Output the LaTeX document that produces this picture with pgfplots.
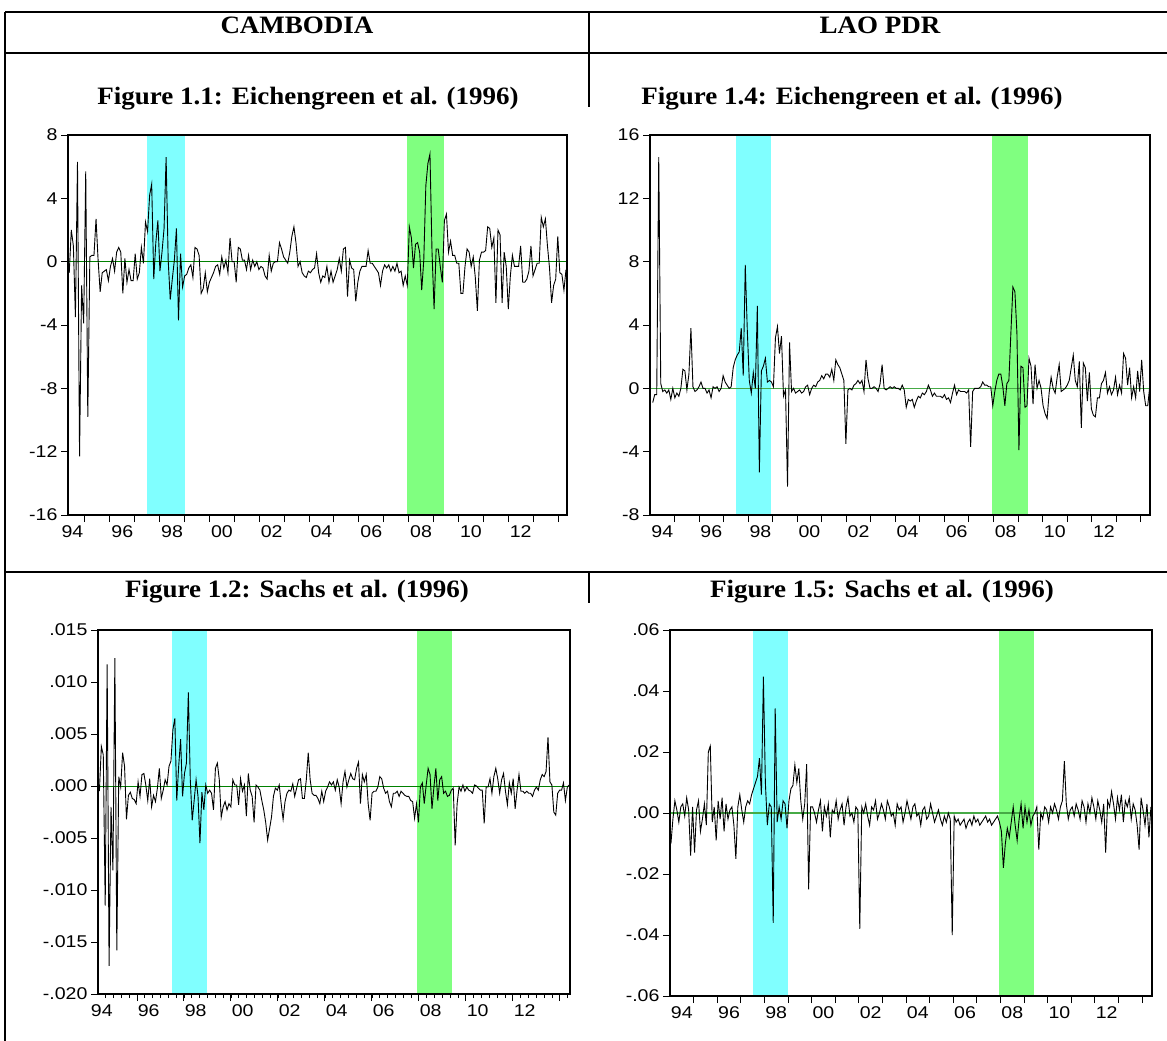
\documentclass[border=0pt]{standalone}
\usepackage{fontspec}
\setmainfont{Liberation Serif}
\newfontfamily\ticksans{Liberation Sans}[FakeStretch=1.15]
\newfontfamily\ttlserif{Liberation Serif}[FakeStretch=1.08]
\usepackage{pgfplots}
\pgfplotsset{compat=1.18}
\usepackage{pgfplotstable}
\definecolor{bandc}{RGB}{128,255,255}
\definecolor{bandg}{RGB}{128,255,128}
\definecolor{zl}{RGB}{0,128,0}
\definecolor{zr}{RGB}{70,170,70}
\newcommand\tk{\ticksans\fontsize{17}{17}\selectfont}
\newcommand\ttlf{\ttlserif\bfseries\fontsize{25}{30}\selectfont}

\pgfplotstableread[row sep=\\]{v\\
-0.7\\2.0\\1.0\\-3.5\\6.3\\-12.3\\-1.5\\-3.9\\5.7\\-9.8\\
0.3\\0.4\\0.4\\2.7\\0.1\\-1.9\\-0.7\\-0.6\\-0.5\\-1.2\\
-0.3\\0.2\\-0.6\\0.6\\0.9\\0.6\\-2.0\\0.2\\-1.3\\-0.5\\
-1.2\\-1.2\\0.5\\-1.1\\-0.7\\0.9\\-0.1\\2.5\\1.9\\4.2\\
4.9\\-1.1\\1.2\\2.6\\-0.6\\0.6\\2.1\\6.6\\0.1\\-2.4\\
-1.1\\0.1\\2.1\\-3.7\\0.5\\-1.6\\-0.9\\-0.8\\-0.4\\-0.2\\
-1.0\\0.9\\0.8\\0.4\\-2.0\\-1.7\\-0.7\\-1.9\\-1.3\\-1.0\\
-0.7\\-0.3\\-0.2\\-0.8\\0.3\\-0.4\\0.1\\-0.7\\1.5\\0.0\\
0.0\\-1.3\\0.9\\0.8\\0.1\\0.1\\-0.5\\0.4\\-0.5\\0.1\\
-0.3\\0.0\\-0.5\\-0.3\\-0.4\\-0.9\\-1.1\\0.4\\-0.6\\-0.1\\
0.0\\0.0\\1.2\\0.8\\0.3\\0.1\\-0.1\\0.6\\1.6\\2.2\\
1.2\\-0.3\\
0.0\\-0.7\\-0.9\\-1.0\\-0.6\\-0.7\\-0.5\\-0.4\\0.5\\-0.7\\
-1.3\\-0.9\\-1.0\\-0.3\\-1.3\\-0.6\\-1.3\\-0.9\\-0.5\\0.2\\
-0.6\\0.8\\0.9\\-2.2\\0.1\\-0.4\\-0.5\\-2.5\\-1.3\\-0.6\\
-0.3\\-0.3\\-0.3\\0.7\\-0.1\\-0.1\\-0.3\\-0.5\\-0.7\\-1.5\\
-0.6\\-0.2\\-0.4\\-0.2\\-0.6\\-0.3\\-0.6\\-0.1\\-0.7\\-0.6\\
-1.5\\-0.9\\-1.5\\2.2\\1.5\\-0.4\\1.1\\1.2\\0.6\\-1.8\\
0.1\\4.8\\6.2\\6.8\\0.6\\-3.0\\0.8\\0.8\\-0.3\\-1.3\\
2.6\\3.0\\0.6\\1.3\\0.4\\0.4\\-0.1\\-0.1\\-2.0\\-2.0\\
-0.3\\0.8\\0.6\\-0.3\\0.3\\-1.0\\-3.1\\0.1\\0.6\\0.6\\
0.7\\2.2\\2.1\\0.9\\1.5\\-2.6\\2.0\\1.7\\-2.6\\0.6\\
-0.3\\-3.0\\-0.9\\0.4\\-0.3\\-0.3\\-0.3\\1.0\\-1.3\\-1.3\\
-1.1\\-0.6\\1.0\\-0.9\\-0.5\\-0.1\\-0.1\\2.8\\2.2\\2.7\\
1.0\\-0.4\\-2.6\\-1.5\\-1.1\\1.6\\-0.7\\-0.8\\-1.8\\-0.5\\
}\dA

\pgfplotstableread[row sep=\\]{v\\
-0.9\\-0.4\\-0.4\\14.6\\0.3\\-0.2\\-0.1\\-0.3\\-0.1\\-0.7\\
0.0\\-0.6\\-0.3\\-0.5\\0.0\\1.2\\1.1\\-0.1\\0.9\\3.8\\
0.1\\-0.2\\-0.1\\0.1\\0.4\\0.0\\0.0\\-0.3\\-0.1\\-0.6\\
0.1\\0.0\\0.1\\-0.2\\0.0\\0.8\\0.4\\0.2\\0.0\\0.1\\
1.3\\1.8\\2.1\\2.3\\3.8\\0.8\\7.8\\3.7\\0.5\\-0.3\\
1.0\\0.0\\5.2\\-5.3\\1.1\\1.4\\1.9\\0.4\\0.5\\0.4\\
0.1\\3.2\\3.9\\2.2\\3.3\\-0.5\\-0.1\\-6.2\\2.9\\-0.2\\
0.0\\-0.3\\-0.2\\-0.1\\-0.3\\-0.2\\0.1\\0.2\\-0.4\\0.0\\
0.2\\0.1\\0.4\\0.5\\0.8\\0.6\\0.9\\0.9\\0.7\\1.2\\
0.5\\1.8\\1.5\\1.3\\0.9\\0.5\\-3.5\\-0.1\\0.0\\-0.1\\
0.2\\0.3\\0.5\\0.3\\0.5\\-0.2\\1.8\\0.6\\0.0\\0.0\\
0.1\\0.0\\-0.2\\
0.3\\1.5\\0.0\\-0.1\\0.0\\0.1\\0.0\\0.1\\0.0\\0.0\\
-0.1\\0.2\\-0.1\\-1.2\\-0.7\\-0.8\\-0.7\\-1.2\\-0.8\\-0.5\\
-0.6\\-0.3\\-0.4\\-0.2\\0.2\\-0.1\\-0.5\\-0.3\\-0.5\\-0.5\\
-0.5\\-0.6\\-0.4\\-0.7\\-0.6\\-0.9\\-0.3\\0.2\\-0.4\\-0.1\\
-0.2\\-0.2\\-0.2\\-0.3\\-0.1\\-3.7\\-0.2\\0.0\\0.0\\0.0\\
0.1\\0.4\\0.2\\0.2\\0.1\\0.1\\-1.1\\-0.2\\0.5\\0.9\\
0.9\\0.1\\-1.1\\0.3\\0.5\\3.5\\6.4\\6.1\\3.5\\-3.9\\
1.4\\1.3\\-1.2\\-1.1\\1.9\\1.4\\-1.0\\1.5\\0.0\\0.5\\
0.0\\-1.1\\-1.6\\-1.9\\-0.3\\0.7\\0.0\\-0.3\\0.7\\1.5\\
-0.2\\-0.1\\0.0\\0.2\\0.5\\1.3\\2.1\\0.5\\0.1\\1.7\\
-2.5\\1.6\\1.3\\-0.8\\1.0\\-1.3\\-1.7\\-1.8\\-0.6\\-0.6\\
0.3\\0.5\\1.0\\-0.3\\0.1\\-0.4\\-0.1\\0.7\\-0.4\\0.2\\
-0.3\\2.2\\1.9\\0.2\\1.3\\-0.6\\0.1\\-0.6\\1.1\\-0.2\\
1.8\\-0.2\\-1.1\\-1.1\\0.1\\
}\dB

\pgfplotstableread[row sep=\\]{v\\
-0.0005\\0.0038\\0.0030\\-0.0115\\0.0117\\-0.0173\\-0.0020\\-0.0081\\0.0123\\-0.0158\\
0.0009\\-0.0001\\0.0032\\0.0019\\-0.0032\\-0.0009\\-0.0006\\-0.0012\\-0.0013\\-0.0017\\
0.0004\\-0.0010\\0.0011\\0.0012\\0.0001\\-0.0014\\0.0007\\-0.0020\\-0.0009\\-0.0015\\
-0.0002\\0.0017\\-0.0012\\-0.0004\\0.0006\\0.0001\\0.0019\\0.0024\\0.0054\\0.0065\\
-0.0014\\0.0019\\0.0045\\-0.0010\\0.0012\\0.0022\\0.0090\\0.0006\\-0.0033\\-0.0014\\
0.0006\\-0.0010\\-0.0055\\-0.0006\\-0.0023\\0.0001\\-0.0007\\-0.0004\\-0.0007\\-0.0023\\
0.0017\\0.0022\\0.0006\\-0.0030\\-0.0020\\-0.0015\\-0.0023\\-0.0017\\-0.0020\\0.0006\\
0.0001\\0.0001\\-0.0018\\0.0007\\-0.0005\\0.0001\\-0.0029\\0.0012\\-0.0004\\-0.0010\\
-0.0035\\0.0001\\-0.0001\\-0.0004\\-0.0014\\-0.0023\\-0.0035\\-0.0052\\-0.0041\\-0.0030\\
-0.0010\\-0.0002\\-0.0004\\0.0001\\-0.0017\\-0.0032\\-0.0015\\-0.0007\\-0.0004\\-0.0005\\
0.0002\\-0.0010\\-0.0002\\0.0006\\0.0007\\-0.0012\\-0.0012\\0.0006\\0.0032\\0.0006\\
-0.0007\\-0.0009\\-0.0009\\-0.0012\\-0.0017\\-0.0005\\-0.0015\\-0.0005\\-0.0001\\0.0004\\
0.0001\\0.0004\\-0.0004\\0.0006\\-0.0001\\-0.0017\\0.0004\\0.0014\\-0.0001\\0.0006\\
0.0012\\0.0007\\0.0006\\0.0017\\0.0023\\-0.0017\\0.0011\\0.0004\\0.0011\\-0.0017\\
-0.0033\\-0.0007\\-0.0005\\-0.0005\\-0.0001\\0.0009\\0.0007\\-0.0002\\-0.0007\\-0.0005\\
-0.0015\\-0.0020\\-0.0007\\-0.0007\\-0.0005\\-0.0010\\-0.0005\\-0.0007\\-0.0009\\-0.0010\\
-0.0010\\-0.0014\\-0.0015\\-0.0031\\-0.0017\\-0.0035\\-0.0001\\0.0003\\-0.0017\\0.0001\\
0.0017\\0.0011\\-0.0022\\-0.0001\\0.0017\\-0.0014\\0.0006\\0.0009\\-0.0007\\-0.0005\\
-0.0010\\-0.0009\\-0.0004\\-0.0002\\-0.0057\\-0.0017\\-0.0001\\-0.0005\\0.0001\\-0.0005\\
-0.0001\\-0.0004\\-0.0005\\-0.0007\\0.0001\\0.0000\\-0.0002\\-0.0004\\-0.0004\\-0.0036\\
-0.0001\\-0.0001\\0.0007\\-0.0007\\0.0009\\0.0017\\0.0007\\-0.0007\\0.0006\\0.0012\\
-0.0005\\-0.0018\\0.0003\\-0.0007\\0.0007\\-0.0022\\-0.0004\\0.0011\\-0.0005\\-0.0005\\
-0.0007\\-0.0005\\-0.0007\\-0.0007\\-0.0010\\-0.0004\\-0.0001\\-0.0004\\0.0006\\0.0011\\
0.0009\\0.0014\\0.0047\\0.0004\\0.0001\\-0.0025\\-0.0028\\-0.0007\\-0.0004\\-0.0004\\
0.0003\\-0.0014\\-0.0001\\0.0001\\
}\dC

\pgfplotstableread[row sep=\\]{v\\
-0.010\\-0.002\\0.004\\0.001\\-0.003\\0.002\\0.003\\-0.001\\0.005\\0.001\\-0.014\\0.002\\
-0.013\\0.001\\0.004\\-0.006\\-0.002\\0.003\\-0.004\\0.020\\0.022\\-0.003\\0.002\\-0.009\\
0.004\\-0.002\\0.005\\-0.006\\0.003\\-0.002\\0.001\\0.002\\-0.004\\-0.015\\0.002\\0.006\\
0.001\\-0.003\\0.002\\0.004\\0.003\\0.006\\0.008\\0.010\\0.012\\
0.018\\0.006\\0.0447\\0.010\\-0.004\\0.003\\0.002\\-0.036\\0.0343\\-0.003\\0.002\\-0.002\\0.004\\
0.003\\-0.005\\0.004\\0.008\\
0.009\\0.0158\\0.010\\0.0146\\0.004\\-0.002\\0.003\\0.016\\-0.025\\0.002\\
0.002\\0.000\\-0.003\\0.001\\0.004\\-0.006\\0.002\\-0.001\\0.003\\-0.008\\0.001\\0.000\\
0.004\\-0.002\\0.001\\0.003\\-0.004\\0.002\\0.005\\-0.001\\0.000\\-0.003\\0.002\\0.001\\
-0.038\\
0.002\\0.000\\0.003\\-0.001\\-0.004\\0.002\\0.001\\0.004\\-0.002\\0.000\\0.003\\
0.001\\-0.002\\0.004\\0.002\\-0.001\\0.000\\-0.004\\0.003\\0.001\\0.002\\-0.003\\0.000\\
0.004\\0.001\\-0.002\\0.002\\0.003\\-0.001\\0.000\\-0.004\\0.001\\0.002\\-0.002\\-0.001\\
0.003\\0.000\\-0.003\\-0.001\\0.001\\-0.002\\-0.004\\-0.001\\-0.003\\0.000\\-0.002\\
-0.040\\
-0.001\\-0.003\\-0.002\\-0.004\\-0.003\\-0.002\\-0.005\\-0.003\\-0.002\\-0.004\\-0.001\\-0.003\\
-0.002\\-0.004\\-0.003\\-0.002\\-0.001\\-0.003\\-0.002\\-0.004\\-0.003\\-0.002\\-0.001\\
-0.003\\-0.006\\-0.018\\-0.010\\-0.005\\-0.008\\-0.003\\0.002\\-0.004\\-0.009\\-0.002\\0.003\\
-0.005\\0.002\\-0.003\\0.001\\-0.004\\-0.001\\0.000\\
0.002\\-0.012\\0.000\\-0.002\\0.002\\0.001\\-0.003\\0.002\\0.000\\0.003\\0.001\\-0.002\\
0.002\\0.004\\0.017\\0.003\\-0.002\\0.001\\
0.002\\-0.001\\0.003\\0.001\\-0.002\\0.004\\0.002\\-0.003\\0.003\\0.000\\0.005\\0.002\\
-0.002\\0.004\\0.001\\-0.003\\0.003\\
-0.013\\
0.004\\0.002\\0.007\\0.003\\-0.002\\0.005\\0.001\\0.006\\-0.003\\0.004\\0.002\\0.005\\
-0.002\\0.003\\0.001\\-0.004\\-0.012\\0.005\\0.001\\-0.004\\0.003\\-0.008\\0.002\\
}\dD

\pgfplotsset{
  panel/.style={
    scale only axis, axis on top,
    axis line style={line width=1.3pt},
    tick style={black, line width=1pt},
    tick align=outside,
    xtick pos=left, ytick pos=left,
    major tick length=7pt, minor tick length=4pt,
    tick label style={font=\tk},
    scaled ticks=false,
    extra x ticks={1994.5,1996.5,1998.5,2000.5,2002.5,2004.5,2006.5,2008.5,2010.5,2012.5},
    extra x tick labels={94,96,98,00,02,04,06,08,10,12},
    extra x tick style={tick style={draw=none}},
  },
  yearticks/.style={xtick={1995,1996,...,2014}, xticklabels={}},
}

\begin{document}
\begin{tikzpicture}
\path[use as bounding box] (0pt,0pt) rectangle (1167pt,-1041pt);

% table rules
\draw[line width=1.8pt] (5pt,-12pt) -- (1167pt,-12pt);
\draw[line width=1.8pt] (5pt,-53pt) -- (1167pt,-53pt);
\draw[line width=1.8pt] (5pt,-12pt) -- (5pt,-1041pt);
\draw[line width=1.8pt] (589pt,-12pt) -- (589pt,-107pt);
\draw[line width=1.8pt] (5pt,-572pt) -- (1167pt,-572pt);
\draw[line width=1.8pt] (589pt,-572pt) -- (589pt,-603pt);

\node[anchor=base, font=\ttlf, inner sep=0pt] at (297pt,-34pt) {CAMBODIA};
\node[anchor=base, font=\ttlf, inner sep=0pt] at (880pt,-34pt) {LAO PDR};
\node[anchor=base, font=\ttlf, inner sep=0pt] at (308pt,-104pt) {Figure 1.1: Eichengreen et al. (1996)};
\node[anchor=base, font=\ttlf, inner sep=0pt] at (852pt,-104pt) {Figure 1.4: Eichengreen et al. (1996)};
\node[anchor=base, font=\ttlf, inner sep=0pt] at (297pt,-597pt) {Figure 1.2: Sachs et al. (1996)};
\node[anchor=base, font=\ttlf, inner sep=0pt] at (882pt,-597pt) {Figure 1.5: Sachs et al. (1996)};

% Panel 1.1
\begin{axis}[panel, yearticks, at={(68pt,-135pt)}, anchor=north west,
  width=499pt, height=380pt,
  xmin=1994.32, xmax=2014.36, ymin=-16, ymax=8,
  ytick={-16,-12,-8,-4,0,4,8}, yticklabels={-16,-12,-8,-4,0,4,8}]
\addplot[draw=none, fill=bandc] coordinates {(1997.5,-16) (1997.5,8) (1999,8) (1999,-16)} -- cycle;
\addplot[draw=none, fill=bandg] coordinates {(2007.92,-16) (2007.92,8) (2009.42,8) (2009.42,-16)} -- cycle;
\addplot[zl, line width=0.9pt] coordinates {(1994,0) (2015,0)};
\addplot[black, line width=0.9pt] table[x expr=1994.37+\coordindex*0.08278, y=v] {\dA};
\end{axis}

% Panel 1.4
\begin{axis}[panel, yearticks, at={(650pt,-135pt)}, anchor=north west,
  width=500pt, height=380pt,
  xmin=1994.0, xmax=2014.38, ymin=-8, ymax=16,
  ytick={-8,-4,0,4,8,12,16}, yticklabels={-8,-4,0,4,8,12,16}]
\addplot[draw=none, fill=bandc] coordinates {(1997.5,-8) (1997.5,16) (1998.95,16) (1998.95,-8)} -- cycle;
\addplot[draw=none, fill=bandg] coordinates {(2007.92,-8) (2007.92,16) (2009.4,16) (2009.4,-8)} -- cycle;
\addplot[zr, line width=1.3pt] coordinates {(1994,0) (2015,0)};
\addplot[black, line width=0.9pt] table[x expr=1994.11+\coordindex*0.08202, y=v] {\dB};
\end{axis}

% Panel 1.2
\begin{axis}[panel, at={(98pt,-630pt)}, anchor=north west,
  width=472pt, height=364pt,
  xmin=1994.34, xmax=2014.43, ymin=-0.020, ymax=0.015,
  xtick={1996,1998,...,2014}, xticklabels={},
  minor xtick={1994.3333,1994.6667,...,2014.4},
  ytick={-0.020,-0.015,-0.010,-0.005,0,0.005,0.010,0.015},
  yticklabels={-.020,-.015,-.010,-.005,.000,.005,.010,.015}]
\addplot[draw=none, fill=bandc] coordinates {(1997.5,-0.02) (1997.5,0.015) (1999,0.015) (1999,-0.02)} -- cycle;
\addplot[draw=none, fill=bandg] coordinates {(2007.92,-0.02) (2007.92,0.015) (2009.42,0.015) (2009.42,-0.02)} -- cycle;
\addplot[zl, line width=0.9pt] coordinates {(1994,0) (2015,0)};
\addplot[black, line width=0.9pt] table[x expr=1994.40+\coordindex*0.0823, y=v] {\dC};
\end{axis}

% Panel 1.5
\begin{axis}[panel, yearticks, at={(670pt,-630pt)}, anchor=north west,
  width=482pt, height=366pt,
  xmin=1994.0, xmax=2014.42, ymin=-0.06, ymax=0.06,
  ytick={-0.06,-0.04,-0.02,0,0.02,0.04,0.06},
  yticklabels={-.06,-.04,-.02,.00,.02,.04,.06}]
\addplot[draw=none, fill=bandc] coordinates {(1997.5,-0.06) (1997.5,0.06) (1999,0.06) (1999,-0.06)} -- cycle;
\addplot[draw=none, fill=bandg] coordinates {(2007.92,-0.06) (2007.92,0.06) (2009.42,0.06) (2009.42,-0.06)} -- cycle;
\addplot[zr, line width=1.3pt] coordinates {(1994,0) (2015,0)};
\addplot[black, line width=0.9pt] table[x expr=1994.04+\coordindex*0.083333, y=v] {\dD};
\end{axis}
\end{tikzpicture}
\end{document}
